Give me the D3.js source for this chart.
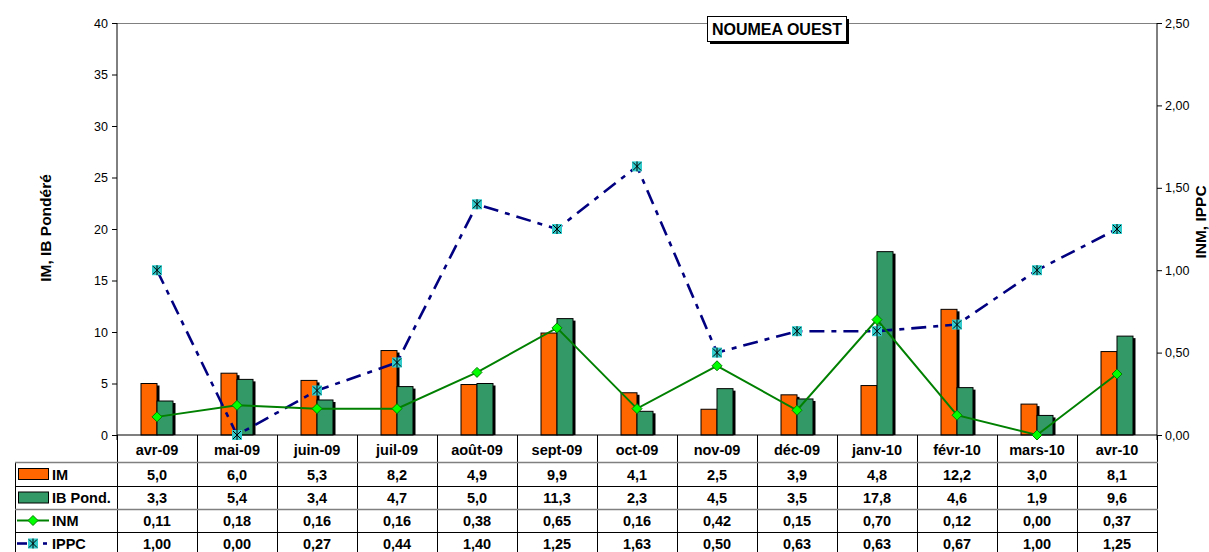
<!DOCTYPE html>
<html><head><meta charset="utf-8">
<script src="https://cdn.jsdelivr.net/npm/d3@7"></script>
<style>body{margin:0;background:#fff}svg{display:block;font-family:"Liberation Sans",Arial,sans-serif}</style>
</head><body><svg id="c" width="1209" height="552"></svg>
<script>
const categories = ["avr-09","mai-09","juin-09","juil-09","août-09","sept-09","oct-09","nov-09","déc-09","janv-10","févr-10","mars-10","avr-10"];
const imValues   = [5.0,6.0,5.3,8.2,4.9,9.9,4.1,2.5,3.9,4.8,12.2,3.0,8.1];
const ibValues   = [3.3,5.4,3.4,4.7,5.0,11.3,2.3,4.5,3.5,17.8,4.6,1.9,9.6];
const inmValues  = [0.11,0.18,0.16,0.16,0.38,0.65,0.16,0.42,0.15,0.70,0.12,0.00,0.37];
const ippcValues = [1.00,0.00,0.27,0.44,1.40,1.25,1.63,0.50,0.63,0.63,0.67,1.00,1.25];
const leftTicks  = [0,5,10,15,20,25,30,35,40];
const rightTicks = [0,0.5,1,1.5,2,2.5];
const title = "NOUMEA OUEST";

const svg = d3.select("#c");
const L=117, R=1157, T=23, B=435;
const x = d3.scaleBand().domain(categories).range([L,R]).padding(0);
const yL = d3.scaleLinear().domain([0,40]).range([B,T]);
const yR = d3.scaleLinear().domain([0,2.5]).range([B,T]);
const fmt1 = v => d3.format(".1f")(v).replace(".",",");
const fmt2 = v => d3.format(".2f")(v).replace(".",",");
const cx = c => x(c)+x.bandwidth()/2;
const ORANGE="#FF6600", GREEN="#339966", LINEG="#008000", LIME="#00FF00", NAVY="#000080", CYAN="#33CCCC";
const TF = 14.5;

// top frame line
svg.append("line").attr("x1",L).attr("x2",R).attr("y1",T+0.5).attr("y2",T+0.5).attr("stroke","#808080");

// left axis
const ga = svg.append("g").attr("transform",`translate(${L},0)`)
  .call(d3.axisLeft(yL).tickValues(leftTicks).tickSize(5).tickFormat(d3.format("d")));
ga.select(".domain").attr("stroke","#000").attr("d",`M0,${T}V${B+5}`);
ga.selectAll("text").attr("font-size",12.5).attr("fill","#000").attr("font-family","Liberation Sans, Arial").attr("x",-9);
// right axis
const gr = svg.append("g").attr("transform",`translate(${R},0)`)
  .call(d3.axisRight(yR).tickValues(rightTicks).tickSize(5).tickFormat(fmt2));
gr.select(".domain").attr("stroke","#000").attr("d",`M0,${T}V${B+5}`);
gr.selectAll("text").attr("font-size",12.5).attr("fill","#000").attr("font-family","Liberation Sans, Arial").attr("x",8);

// axis titles
svg.append("text").attr("transform","translate(51,228) rotate(-90)").attr("text-anchor","middle")
  .attr("font-size",15.5).attr("font-weight","bold").text("IM, IB Pondéré");
svg.append("text").attr("transform","translate(1206,222) rotate(-90)").attr("text-anchor","middle")
  .attr("font-size",15.5).attr("font-weight","bold").text("INM, IPPC");

// bars
const bw = 16;
const bars = [{vals:imValues,col:ORANGE,off:-bw},{vals:ibValues,col:GREEN,off:0}];
bars.forEach(s=>{
  const g = svg.append("g");
  categories.forEach((c,i)=>{
    const x0 = cx(c)+s.off, y0 = yL(s.vals[i]);
    g.append("rect").attr("x",x0+2.5).attr("y",y0+2).attr("width",bw).attr("height",B-y0-2).attr("fill","#000");
  });
  categories.forEach((c,i)=>{
    const x0 = cx(c)+s.off, y0 = yL(s.vals[i]);
    g.append("rect").attr("x",x0).attr("y",y0).attr("width",bw).attr("height",B-y0)
      .attr("fill",s.col).attr("stroke","#000").attr("stroke-width",1);
  });
});

// bottom axis line
svg.append("line").attr("x1",L).attr("x2",R).attr("y1",B).attr("y2",B).attr("stroke","#000").attr("stroke-width",1.2);

// IPPC line
const ippcLine = d3.line().x((d,i)=>cx(categories[i])).y(d=>yR(d));
svg.append("path").attr("d",ippcLine(ippcValues)).attr("fill","none").attr("stroke",NAVY)
  .attr("stroke-width",2.6).attr("stroke-dasharray","15,7,5,7");
// INM line
const inmLine = d3.line().x((d,i)=>cx(categories[i])).y(d=>yR(d));
svg.append("path").attr("d",inmLine(inmValues)).attr("fill","none").attr("stroke",LINEG).attr("stroke-width",2);

function ippcMarker(g,px,py){
  g.append("rect").attr("x",px-5).attr("y",py-5).attr("width",10).attr("height",10).attr("fill",CYAN);
  g.append("path").attr("d",`M${px-4},${py-4}L${px+4},${py+4}M${px+4},${py-4}L${px-4},${py+4}M${px},${py-5}V${py+5}`)
    .attr("stroke","#000").attr("stroke-width",1);
}
function inmMarker(g,px,py){
  g.append("path").attr("d",`M${px},${py-5}L${px+5},${py}L${px},${py+5}L${px-5},${py}Z`)
    .attr("fill",LIME).attr("stroke",LINEG).attr("stroke-width",1);
}
const gm = svg.append("g");
inmValues.forEach((v,i)=>inmMarker(gm,cx(categories[i]),yR(v)));
ippcValues.forEach((v,i)=>ippcMarker(gm,cx(categories[i]),yR(v)));

// title box
svg.append("rect").attr("x",710).attr("y",19).attr("width",139).attr("height",25).attr("fill","#000");
svg.append("rect").attr("x",707.5).attr("y",16.5).attr("width",139).attr("height",25).attr("fill","#fff").attr("stroke","#000");
svg.append("text").attr("x",777).attr("y",35).attr("text-anchor","middle").attr("font-size",16).attr("font-weight","bold").text(title);

// data table
const rowsY = [B,462,486,509,532,555];
const tg = svg.append("g");
[L,...categories.map(c=>x(c)+x.bandwidth())].forEach(xx=>{
  tg.append("line").attr("x1",xx+0.5).attr("x2",xx+0.5).attr("y1",B).attr("y2",552).attr("stroke","#000");
});
tg.append("line").attr("x1",15.5).attr("x2",15.5).attr("y1",462).attr("y2",552).attr("stroke","#000");
[462,486,509,532].forEach((yy,i)=>{
  tg.append("line").attr("x1",15).attr("x2",R+1).attr("y1",yy+0.5).attr("y2",yy+0.5)
    .attr("stroke", i%2===0 ? "#808080" : "#000").attr("stroke-width", i%2===0?1.5:1);
});
categories.forEach(c=>{
  tg.append("text").attr("x",cx(c)).attr("y",454.5).attr("text-anchor","middle").attr("font-size",TF).attr("font-weight","bold").text(c);
});
const tableRows = [
  {name:"IM", vals:imValues, f:fmt1},
  {name:"IB Pond.", vals:ibValues, f:fmt1},
  {name:"INM", vals:inmValues, f:fmt2},
  {name:"IPPC", vals:ippcValues, f:fmt2}
];
tableRows.forEach((r,ri)=>{
  const mid = (rowsY[ri+1]+rowsY[ri+2])/2;
  r.vals.forEach((v,i)=>{
    tg.append("text").attr("x",cx(categories[i])).attr("y",mid+5.5).attr("text-anchor","middle")
      .attr("font-size",TF).attr("font-weight","bold").text(r.f(v));
  });
  tg.append("text").attr("x",52).attr("y",mid+5.5).attr("font-size",TF).attr("font-weight","bold").text(r.name);
  if(ri===0||ri===1){
    tg.append("rect").attr("x",18.5).attr("y",mid-5.5).attr("width",30).attr("height",11)
      .attr("fill",ri===0?ORANGE:GREEN).attr("stroke","#000");
  } else if(ri===2){
    tg.append("line").attr("x1",17).attr("x2",49).attr("y1",mid).attr("y2",mid).attr("stroke",LINEG).attr("stroke-width",2);
    inmMarker(tg,33,mid);
  } else {
    tg.append("line").attr("x1",17).attr("x2",27).attr("y1",mid).attr("y2",mid).attr("stroke",NAVY).attr("stroke-width",2.6);
    tg.append("line").attr("x1",43).attr("x2",47).attr("y1",mid).attr("y2",mid).attr("stroke",NAVY).attr("stroke-width",2.6);
    ippcMarker(tg,33,mid);
  }
});
</script></body></html>
